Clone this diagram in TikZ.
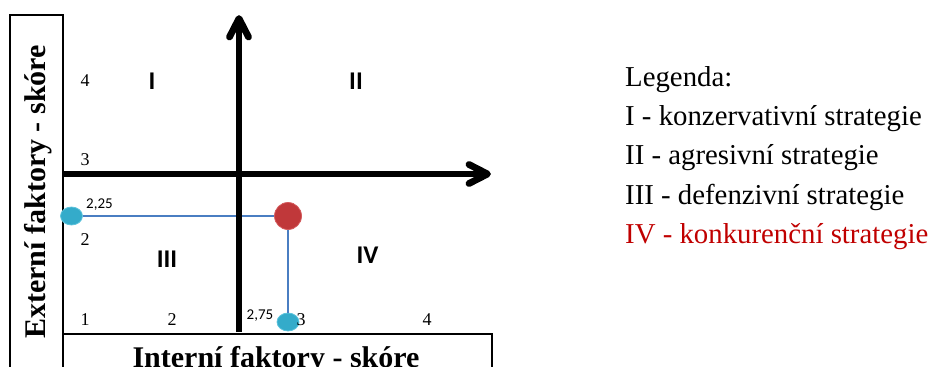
\documentclass[tikz,border=0pt]{standalone}
\usepackage{fontspec}
\setmainfont{Liberation Serif}
\newfontfamily\calfont{Carlito}
\usetikzlibrary{shapes.geometric}
\definecolor{dotcyan}{HTML}{34ABCA}
\definecolor{dotcyanedge}{HTML}{5CC3DC}
\definecolor{dotred}{HTML}{C0383A}
\definecolor{dotrededge}{HTML}{D45A5C}
\definecolor{linkblue}{HTML}{4A7EC2}
\definecolor{legred}{HTML}{C00000}
\begin{document}
\begin{tikzpicture}[x=1pt,y=-1pt,
  boxline/.style={draw=black,line width=2.5pt},
  axisline/.style={draw=black,line width=6.8pt,line cap=round,line join=round},
  linkline/.style={draw=linkblue,line width=2.8pt},
  cyandot/.style={ellipse,fill=dotcyan,draw=dotcyanedge,line width=0.8pt,minimum width=22pt,minimum height=18pt,inner sep=0pt},
  reddot/.style={circle,fill=dotred,draw=dotrededge,line width=0.8pt,minimum size=27pt,inner sep=0pt},
  num/.style={inner sep=0pt,font=\fontsize{18}{18}\selectfont},
  quad/.style={inner sep=0pt,font=\calfont\bfseries\fontsize{25.5}{25.5}\selectfont},
  val/.style={inner sep=0pt,font=\calfont\fontsize{15}{15}\selectfont},
  title/.style={inner sep=0pt,font=\bfseries\fontsize{30}{30}\selectfont},
  legend/.style={inner sep=0pt,anchor=base west,font=\fontsize{28.8}{28.8}\selectfont}
]
\useasboundingbox (0,0) rectangle (935,367);
\clip (0,0) rectangle (935,367);

% frames
\draw[boxline] (10,15) rectangle (63,385);
\draw[boxline] (63,334) rectangle (492,385);

% points
\node[cyandot] (p1) at (71.5,216) {};
\node[reddot] (pr) at (288,216) {};
\node[cyandot] (p2) at (288,322) {};
\draw[linkline] (p1) -- (pr);
\draw[linkline] (pr) -- (p2);

% axes
\coordinate (yb) at (239,332);
\coordinate (yt) at (239,18.5);
\coordinate (ywl) at (229.5,37);
\coordinate (ywr) at (248.5,37);
\draw[axisline,line cap=butt] (yb) -- (yt);
\draw[axisline] (ywl) -- (yt) -- (ywr);
\coordinate (xl) at (63,174);
\coordinate (xr) at (487.5,174);
\coordinate (xwt) at (469,164.5);
\coordinate (xwb) at (469,183.5);
\draw[axisline,line cap=butt] (xl) -- (xr);
\draw[axisline] (xwt) -- (xr) -- (xwb);

% scale numbers
\node[num] (y4) at (85,81) {4};
\node[num] (y3) at (85,160) {3};
\node[num] (y2) at (85,240) {2};
\node[num] (y1) at (85,320) {1};
\node[num] (x2) at (172,320) {2};
\node[num] (x3) at (301,320) {3};
\node[num] (x4) at (427,320) {4};

% quadrant labels
\node[quad] (qI) at (152,81.5) {I};
\node[quad] (qII) at (356,81) {II};
\node[quad] (qIII) at (167,259) {III};
\node[quad] (qIV) at (367.5,255) {IV};

% values
\node[val] (v1) at (99.5,204.5) {2,25};
\node[val] (v2) at (260,315.5) {2,75};

% titles
\node[title,rotate=90,anchor=base] (ytitle) at (45.5,192) {Externí faktory - skóre};
\node[title,anchor=base] (xtitle) at (276,367) {Interní faktory - skóre};

% legend
\node[legend] (l0) at (625,86) {Legenda:};
\node[legend] (l1) at (625,125.5) {I - konzervativní strategie};
\node[legend] (l2) at (625,164.5) {II - agresivní strategie};
\node[legend] (l3) at (625,204) {III - defenzivní strategie};
\node[legend,text=legred] (l4) at (625,243) {IV - konkurenční strategie};
\end{tikzpicture}
\end{document}
